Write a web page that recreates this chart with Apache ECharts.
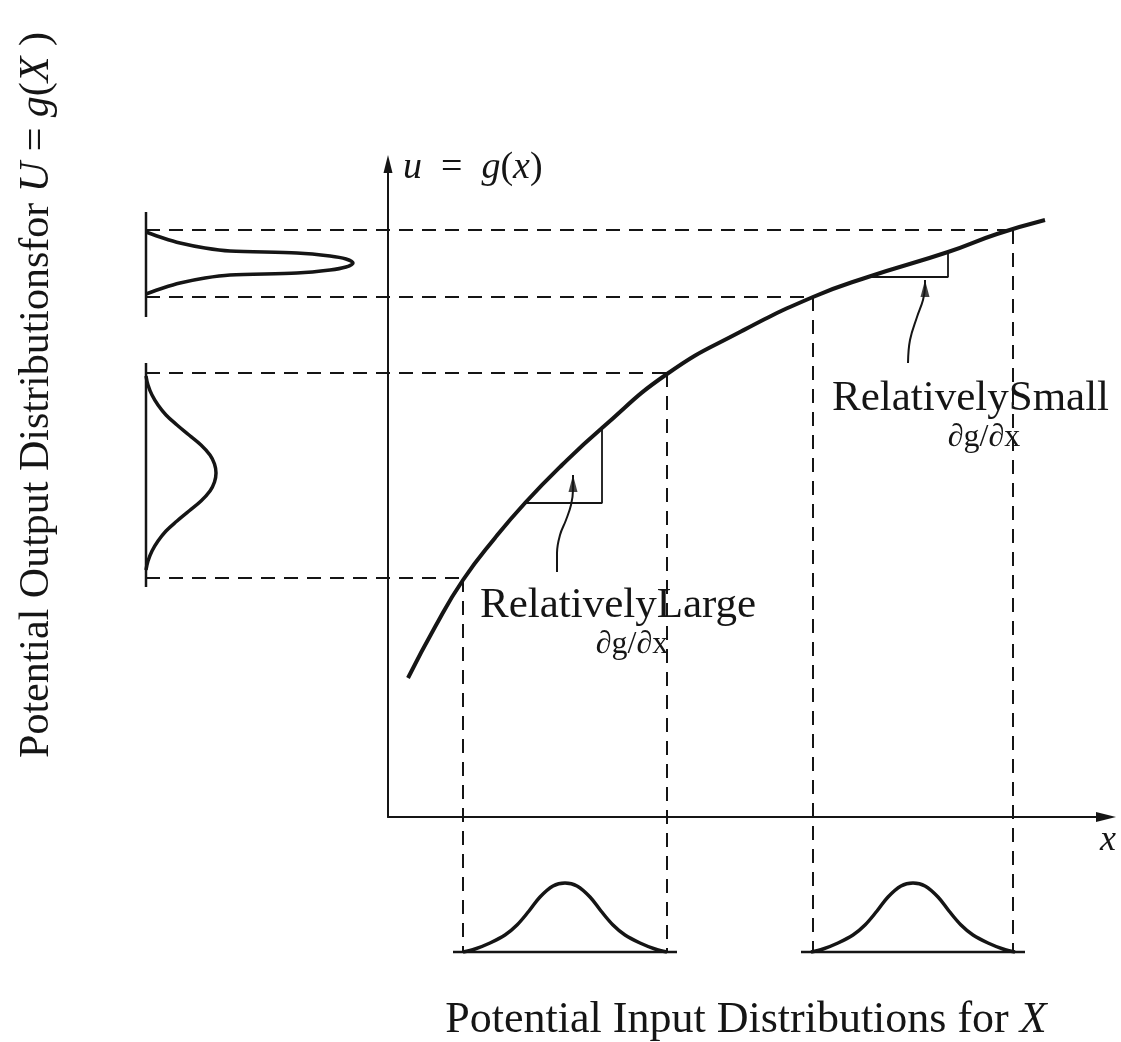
<!DOCTYPE html>
<html>
<head>
<meta charset="utf-8">
<script src="https://cdn.jsdelivr.net/npm/echarts@6/dist/echarts.min.js"></script>
<style>
html,body{margin:0;padding:0;background:#fff;}
#chart{width:1121px;height:1042px;}
</style>
</head>
<body>
<div id="chart"></div>
<script>
// Data coordinates: x to the right of the u-axis, u above the x-axis (same scale on both)
// main curve u = g(x)
const curveX = [20, 47, 75, 107, 137, 174, 214, 279, 352, 425, 480, 560, 609, 657];
const curveU = [139, 190, 237, 279, 314, 352, 389, 443, 485, 520, 540, 565, 583, 597];

// projection levels (u value on curve, x value on curve)
const levelU = [587, 520, 444, 239];
const levelX = [625, 425, 279, 75];
const leftBaseX = -242;     // x of the output-distribution baselines
const bottomBaseU = -135;   // u of the input-distribution baselines

// slope triangles [x0, x1, u0, u1]
const triLarge = [137, 214, 314, 389];
const triSmall = [480, 560, 540, 566];

// annotation arrows (tail to tip)
const arrowLargeX = [169, 169, 172, 178, 183, 185, 185];
const arrowLargeU = [245, 264, 282, 297, 312, 327, 342];
const arrowSmallX = [520, 522, 529, 535, 537, 537];
const arrowSmallU = [454, 477, 500, 517, 530, 537];

// input distributions (bottom): shape offsets and heights
const inCenters = [177, 525];
const inBaseHalf = 112;
const inOffset = [-102, -90, -75, -60, -48, -36, -25, -12, 0, 12, 25, 36, 48, 60, 75, 90, 102];
const inHeight = [0, 3, 9, 17, 27, 41, 55, 66, 69, 66, 55, 41, 27, 17, 9, 3, 0];

// output distributions (left)
const outTopCenter = 554;
const outTopOffset = [31, 25, 20, 15, 12, 10, 7, 4, 0, -4, -7, -10, -12, -15, -20, -25, -31];
const outTopDens   = [0, 17, 34, 59, 84, 151, 184, 200, 207, 200, 184, 151, 84, 59, 34, 17, 0];
const outTopBase = [605, 500];
const outLowCenter = 344;
const outLowOffset = [97, 88, 78, 68, 58, 48, 38, 28, 18, 9, 0, -9, -18, -28, -38, -48, -58, -68, -78, -88, -97];
const outLowDens   = [0, 2, 6, 12, 20, 31, 43, 55, 64, 68.5, 70, 68.5, 64, 55, 43, 31, 20, 12, 6, 2, 0];
const outLowBase = [454, 230];

const INK = '#151515';
const serif = '"Liberation Serif","Times New Roman",serif';

function seg(points, width, dashed, smooth, z) {
  return {
    type: 'line', data: points, symbol: 'none', clip: false, silent: true,
    xAxisIndex: 1, yAxisIndex: 1,
    smooth: smooth || false, z: z || 2,
    lineStyle: { color: INK, width: width, type: dashed ? [14, 9] : 'solid', cap: 'butt' }
  };
}
const series = [];
// dashed projection lines
levelU.forEach((u, i) => {
  series.push(seg([[leftBaseX, u], [levelX[i], u]], 2, true));
  series.push(seg([[levelX[i], u], [levelX[i], bottomBaseU]], 2, true));
});
// main curve
series.push(seg(curveX.map((x, i) => [x, curveU[i]]), 4, false, 0.5, 5));
// triangles
[triLarge, triSmall].forEach(t => {
  series.push(seg([[t[0], t[2]], [t[1], t[2]], [t[1], t[3]]], 1.8, false, false, 4));
});
// arrows
series.push(seg(arrowLargeX.map((x, i) => [x, arrowLargeU[i]]), 2, false, 0.4, 4));
series.push(seg(arrowSmallX.map((x, i) => [x, arrowSmallU[i]]), 2, false, 0.4, 4));
series.push({
  type: 'scatter', silent: true, z: 6, xAxisIndex: 1, yAxisIndex: 1,
  symbol: 'triangle', symbolSize: [9, 17], symbolOffset: [0, '50%'],
  itemStyle: { color: INK },
  data: [[arrowLargeX[arrowLargeX.length - 1], arrowLargeU[arrowLargeU.length - 1]],
         [arrowSmallX[arrowSmallX.length - 1], arrowSmallU[arrowSmallU.length - 1]]]
});
// bottom input distributions
inCenters.forEach(c => {
  series.push(seg([[c - inBaseHalf, bottomBaseU], [c + inBaseHalf, bottomBaseU]], 2.5));
  series.push(seg(inOffset.map((o, i) => [c + o, bottomBaseU + inHeight[i]]), 3.5, false, 0.35, 3));
});
// left output distributions
series.push(seg([[leftBaseX, outTopBase[0]], [leftBaseX, outTopBase[1]]], 2.5));
series.push(seg(outTopOffset.map((o, i) => [leftBaseX + outTopDens[i], outTopCenter + o]), 3.5, false, 0.3, 3));
series.push(seg([[leftBaseX, outLowBase[0]], [leftBaseX, outLowBase[1]]], 2.5));
series.push(seg(outLowOffset.map((o, i) => [leftBaseX + outLowDens[i], outLowCenter + o]), 3.5, false, 0.4, 3));

const hidden = {
  type: 'value', show: false,
  axisLine: { show: false }, axisTick: { show: false }, axisLabel: { show: false }, splitLine: { show: false }
};
const visible = {
  type: 'value',
  axisTick: { show: false }, axisLabel: { show: false }, splitLine: { show: false }
};
const option = {
  animation: false,
  backgroundColor: '#ffffff',
  grid: [
    { left: 388, right: 15, top: 164, bottom: 225 },   // the drawn x/u axes
    { left: 0, right: 0, top: 0, bottom: 0 }           // whole canvas, same scale
  ],
  xAxis: [
    Object.assign({}, visible, { gridIndex: 0, min: 0, max: 718,
      axisLine: { show: true, onZero: false, symbol: ['none', 'triangle'], symbolSize: [10, 20], lineStyle: { color: INK, width: 2 } } }),
    Object.assign({}, hidden, { gridIndex: 1, min: -388, max: 733 })
  ],
  yAxis: [
    Object.assign({}, visible, { gridIndex: 0, min: 0, max: 653,
      axisLine: { show: true, onZero: false, symbol: ['none', 'triangle'], symbolSize: [9, 18], lineStyle: { color: INK, width: 2 } } }),
    Object.assign({}, hidden, { gridIndex: 1, min: -225, max: 817 })
  ],
  graphic: [
    { type: 'text', x: 403, y: 168, z: 10, style: {
      text: '{i|u}{r|  =  }{i|g}{r|(}{i|x}{r|)}', fill: INK,
      align: 'left', verticalAlign: 'middle',
      rich: { i: { fontFamily: serif, fontStyle: 'italic', fontSize: 38, fill: INK },
              r: { fontFamily: serif, fontSize: 38, fill: INK } } } },
    { type: 'text', x: 1108, y: 841, z: 10, style: {
      text: 'x', fontFamily: serif, fontStyle: 'italic', fontSize: 36, fill: INK,
      align: 'center', verticalAlign: 'middle' } },
    { type: 'text', x: 480, y: 606, z: 10, style: {
      text: 'RelativelyLarge', fontFamily: serif, fontSize: 43, fill: INK,
      align: 'left', verticalAlign: 'middle' } },
    { type: 'text', x: 632, y: 645, z: 10, style: {
      text: '\u2202g/\u2202x', fontFamily: serif, fontSize: 32, fill: INK,
      align: 'center', verticalAlign: 'middle' } },
    { type: 'text', x: 832, y: 399, z: 10, style: {
      text: 'RelativelySmall', fontFamily: serif, fontSize: 43, fill: INK,
      align: 'left', verticalAlign: 'middle' } },
    { type: 'text', x: 984, y: 438, z: 10, style: {
      text: '\u2202g/\u2202x', fontFamily: serif, fontSize: 32, fill: INK,
      align: 'center', verticalAlign: 'middle' } },
    { type: 'text', x: 746, y: 1020, z: 10, style: {
      text: '{r|Potential Input Distributions for }{i|X}', fill: INK,
      align: 'center', verticalAlign: 'middle',
      rich: { i: { fontFamily: serif, fontStyle: 'italic', fontSize: 44, fill: INK },
              r: { fontFamily: serif, fontSize: 44, fill: INK } } } },
    { type: 'text', x: 37, y: 395, rotation: Math.PI / 2, z: 10, style: {
      text: '{r|Potential Output Distributionsfor }{i|U}{r| = }{i|g}{r|(}{i|X}{r| )}', fill: INK,
      align: 'center', verticalAlign: 'middle',
      rich: { i: { fontFamily: serif, fontStyle: 'italic', fontSize: 42, fill: INK },
              r: { fontFamily: serif, fontSize: 42, fill: INK } } } }
  ],
  series: series
};
const chart = echarts.init(document.getElementById('chart'), null, { renderer: 'canvas' });
chart.setOption(option);
</script>
</body>
</html>
